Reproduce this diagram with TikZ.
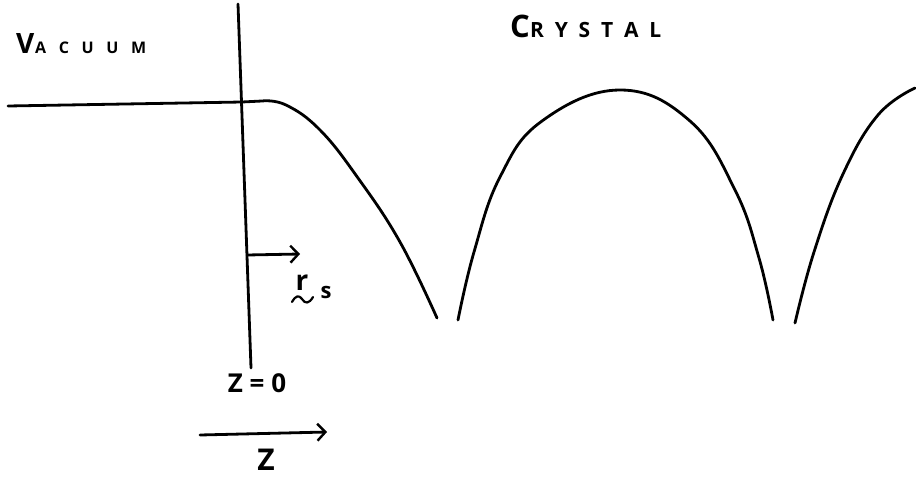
\documentclass[tikz,border=0pt]{standalone}
\usepackage{fontspec}
\setmainfont{Open Sans}
\usetikzlibrary{arrows.meta}
\tikzset{
  ink/.style={line width=2.8pt, line cap=round, line join=round},
  barb/.style={-{Straight Barb[length=8pt,width=17pt,line width=2.4pt]}},
  lbl/.style={inner sep=0pt, anchor=base west, font=\bfseries},
  txt/.style={inner sep=0pt, font=\bfseries},
}
\begin{document}
\begin{tikzpicture}[x=1pt,y=-1pt]
\useasboundingbox (0,0) rectangle (916,479);
% labels
\node[lbl] (vac) at (16,53) {\makebox[19pt][l]{\fontsize{28}{28}\selectfont V}\makebox[111pt][s]{\fontsize{16}{16}\selectfont A\hfill C\hfill U\hfill U\hfill M}};
\node[lbl] (cry) at (510,37) {\makebox[20pt][l]{\fontsize{31}{31}\selectfont C}\makebox[131pt][s]{\fontsize{21}{21}\selectfont R\hfill Y\hfill S\hfill T\hfill A\hfill L}};
% surface plane
\coordinate (ptop) at (238,4);
\coordinate (pbot) at (251,368);
\draw[ink] (ptop) -- (pbot);
% potential
\coordinate (v0) at (8,106);
\coordinate (v1) at (262,101);
\draw[ink] (v0) -- (242,102) -- (v1)
  plot[smooth, tension=0.7] coordinates {(262,101) (286,105) (320,130) (358,178) (400,242) (437,318)};
\draw[ink] plot[smooth, tension=0.7] coordinates {(458,320) (474,252) (500,177) (542,121) (620,90) (690,121) (735,190) (759,258) (773,320)};
\draw[ink] plot[smooth, tension=0.7] coordinates {(795,323) (814,252) (843,174) (878,115) (915,88)};
% r_s arrow
\coordinate (rs0) at (247,255);
\coordinate (rs1) at (300,254);
\draw[ink,barb] (rs0) -- (rs1);
\node[txt] (rr) at (302,283) {\fontsize{28}{28}\selectfont r};
\draw[ink, line width=2.2pt] (292,302) .. controls (296,295) and (299,295) .. (302,299) .. controls (305,304) and (309,304) .. (313,297);
\node[txt] (rsub) at (326,292) {\fontsize{22}{22}\selectfont s};
% z = 0
\node[txt] (z0) at (257,383) {\fontsize{26}{26}\selectfont Z = 0};
% z axis
\coordinate (za) at (200,435);
\coordinate (zb) at (327,432);
\draw[ink,barb] (za) -- (zb);
\node[txt] (zl) at (266,460) {\fontsize{30}{30}\selectfont Z};
\end{tikzpicture}
\end{document}
